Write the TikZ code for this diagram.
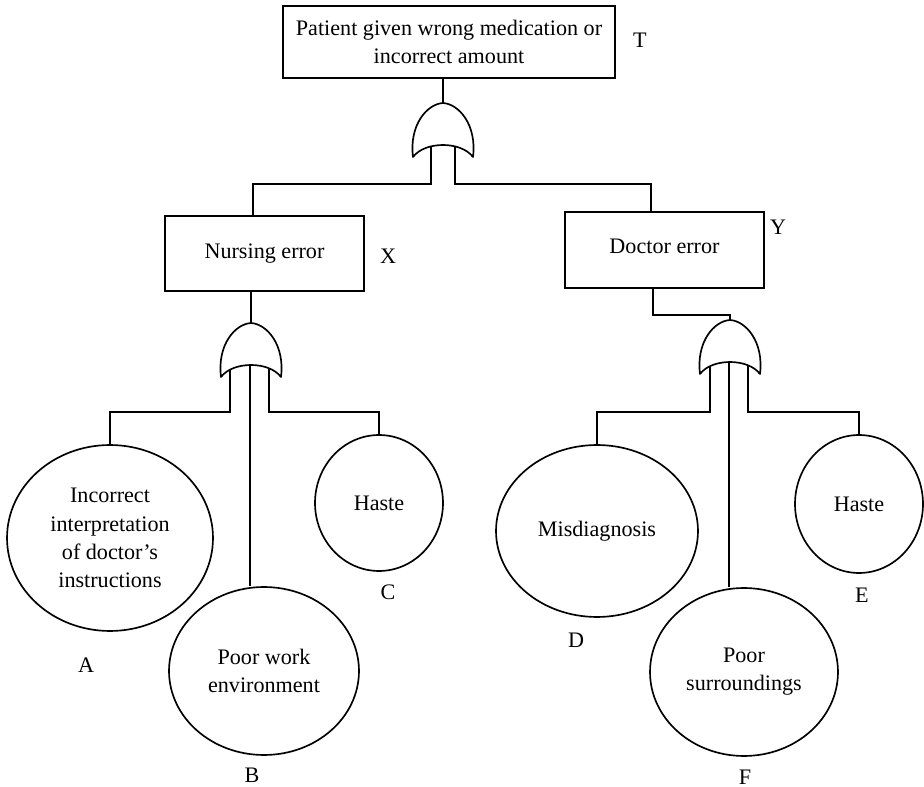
\documentclass[tikz,border=0pt]{standalone}
\usepackage{fontspec}
\setmainfont{Liberation Serif}
\usetikzlibrary{shapes.geometric}
% OR gate: apex at (#1,#2), 60 wide, 54 high, concave base
\newcommand\orgateshape[2]{%
  \filldraw[gatestyle] (#1-30,#2+54)
    .. controls (#1-34,#2+22) and (#1-16,#2+1) .. (#1,#2)
    .. controls (#1+16,#2+1) and (#1+34,#2+22) .. (#1+30,#2+54)
    .. controls (#1+18,#2+38) and (#1-18,#2+38) .. cycle;}
\begin{document}
\begin{tikzpicture}[x=0.02cm,y=-0.02cm,line width=0.95pt,
  txt/.style={font=\fontsize{12.6}{16}\selectfont},
  event/.style={txt,draw,rectangle,inner sep=0pt,align=center},
  basic/.style={txt,draw,ellipse,inner sep=0pt,align=center},
  tag/.style={txt,inner sep=0pt},
  gatestyle/.style={draw,fill=white,line join=round}]
\useasboundingbox (0,0) rectangle (924,787);

% events
\node[event,minimum width=6.64cm,minimum height=1.44cm] (top) at (449,42)
  {Patient given wrong medication or\\incorrect amount};
\node[event,minimum width=3.98cm,minimum height=1.5cm] (nurse) at (264.5,253.5) {Nursing error};
\node[event,minimum width=3.98cm,minimum height=1.52cm] (doc) at (664.5,250) {};
\node[txt,inner sep=0pt] (doctxt) at (664.5,246) {Doctor error};

% basic events
\node[basic,minimum width=4.12cm,minimum height=3.72cm] (evA) at (110,538)
  {Incorrect\\interpretation\\of doctor's\\instructions};
\node[basic,minimum width=3.80cm,minimum height=3.36cm] (evB) at (264,671) {Poor work\\environment};
\node[basic,minimum width=2.56cm,minimum height=2.72cm] (evC) at (379,503) {Haste};
\node[basic,minimum width=4.04cm,minimum height=3.44cm] (evD) at (597,531) {Misdiagnosis};
\node[basic,minimum width=2.56cm,minimum height=2.76cm] (evE) at (859,504) {Haste};
\node[basic,minimum width=3.76cm,minimum height=3.36cm] (evF) at (744,672) {Poor\\surroundings};

% letters
\node[tag] (labT) at (640,40) {T};
\node[tag] (labX) at (388,256) {X};
\node[tag] (labY) at (778,227) {Y};
\node[tag] (labA) at (86,665) {A};
\node[tag] (labB) at (252,775) {B};
\node[tag] (labC) at (388,592) {C};
\node[tag] (labD) at (576,640) {D};
\node[tag] (labE) at (862,595) {E};
\node[tag] (labF) at (745,777) {F};

% gate apexes and inputs
\coordinate (g1apex) at (443,103);
\coordinate (g1l) at (431,143);
\coordinate (g1r) at (455,143);
\coordinate (g2apex) at (251,323);
\coordinate (g2a) at (230,363);
\coordinate (g2b) at (250,363);
\coordinate (g2c) at (269,363);
\coordinate (g3apex) at (730,320);
\coordinate (g3a) at (710,360);
\coordinate (g3b) at (729,360);
\coordinate (g3c) at (748,360);

% bends
\coordinate (jN) at (253,184);
\coordinate (jD) at (651,184);
\coordinate (jDoc) at (653,315);
\coordinate (busL) at (0,412);

% connectors
\draw (top.south -| g1apex) -- (g1apex);
\draw (g1l) |- (jN) -- (jN |- nurse.north);
\draw (g1r) |- (jD) -- (jD |- doc.north);
\draw (nurse.south -| g2apex) -- (g2apex);
\draw (doc.south -| jDoc) -- (jDoc) -| (g3apex);
\draw (g2a) -- (g2a |- busL) -| (evA.north);
\draw (g2b) -- (g2b |- evB.north);
\draw (g2c) -- (g2c |- busL) -| (evC.north);
\draw (g3a) -- (g3a |- busL) -| (evD.north);
\draw (g3b) -- (g3b |- evF.north);
\draw (g3c) -- (g3c |- busL) -| (evE.north);

% gates
\orgateshape{443}{103}
\orgateshape{251}{323}
\orgateshape{730}{320}
\end{tikzpicture}
\end{document}
